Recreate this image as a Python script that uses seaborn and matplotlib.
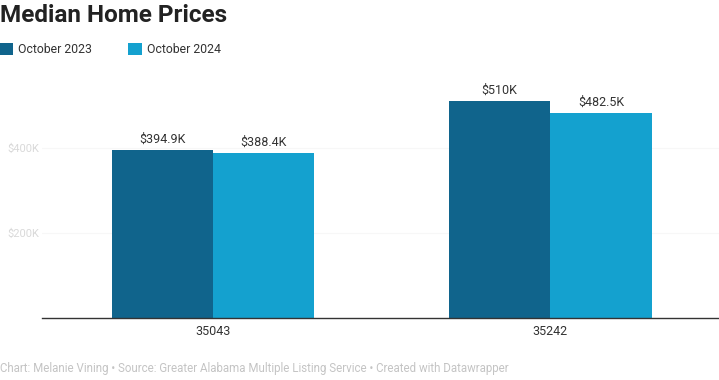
import matplotlib
matplotlib.use("Agg")
import matplotlib.pyplot as plt
from matplotlib.patches import Patch
import pandas as pd
import seaborn as sns

# values in thousands of dollars
zip_codes = ["35043", "35242"]
periods = ["October 2023", "October 2024"]
price_2023 = [394.9, 510.0]
price_2024 = [388.4, 482.5]
value_labels_2023 = ["$394.9K", "$510K"]
value_labels_2024 = ["$388.4K", "$482.5K"]
y_ticks = [200, 400]
y_tick_labels = ["$200K", "$400K"]

colors = ["#10648c", "#14a1cf"]

df = pd.DataFrame({
    "zip": zip_codes * 2,
    "period": [periods[0]] * 2 + [periods[1]] * 2,
    "price": price_2023 + price_2024,
})

sns.set_theme(style="white")
plt.rcParams["font.family"] = ["Roboto", "DejaVu Sans"]

fig = plt.figure(figsize=(7.19, 3.80), dpi=100)
ax = fig.add_axes([0.0584, 0.163, 0.9416, 0.64])

sns.barplot(data=df, x="zip", y="price", hue="period", palette=colors,
            width=0.6, gap=0, saturation=1, linewidth=0, ax=ax, legend=False)

ax.set_xlim(-0.507, 1.5)
ax.set_ylim(0, 571)
ax.set_yticks(y_ticks)
ax.set_yticklabels(y_tick_labels, color="#d9d9d9", fontsize=8)
ax.yaxis.grid(True, color="#f7f7f7", linewidth=0.8)
ax.set_axisbelow(True)
ax.tick_params(axis="y", length=0, pad=2)
ax.tick_params(axis="x", length=0, pad=5, labelsize=9, labelcolor="#333333")
ax.set_xlabel("")
ax.set_ylabel("")
for s in ["top", "right", "left"]:
    ax.spines[s].set_visible(False)
ax.spines["bottom"].set_color("#333333")
ax.spines["bottom"].set_linewidth(1.0)

# bar value labels
for cont, labels in zip(ax.containers, [value_labels_2023, value_labels_2024]):
    ax.bar_label(cont, labels=labels, padding=3, fontsize=9, color="#333333")

fig.text(0.0, 0.99, "Median Home Prices", fontsize=17.5, fontweight="bold",
         color="#222222", ha="left", va="top")

handles = [Patch(facecolor=c, edgecolor="none") for c in colors]
fig.legend(handles, periods, loc="upper left", bbox_to_anchor=(-0.016, 0.915),
           ncol=2, frameon=False, fontsize=8.8, handlelength=1.1, handleheight=1.1,
           handletextpad=0.4, columnspacing=3.0, labelcolor="#333333")

fig.text(0.0, 0.03,
         "Chart: Melanie Vining \u2022 Source: Greater Alabama Multiple Listing Service \u2022 Created with Datawrapper",
         fontsize=8.3, color="#c4c4c4", ha="left", va="center")

fig.savefig("out.png", dpi=100)
